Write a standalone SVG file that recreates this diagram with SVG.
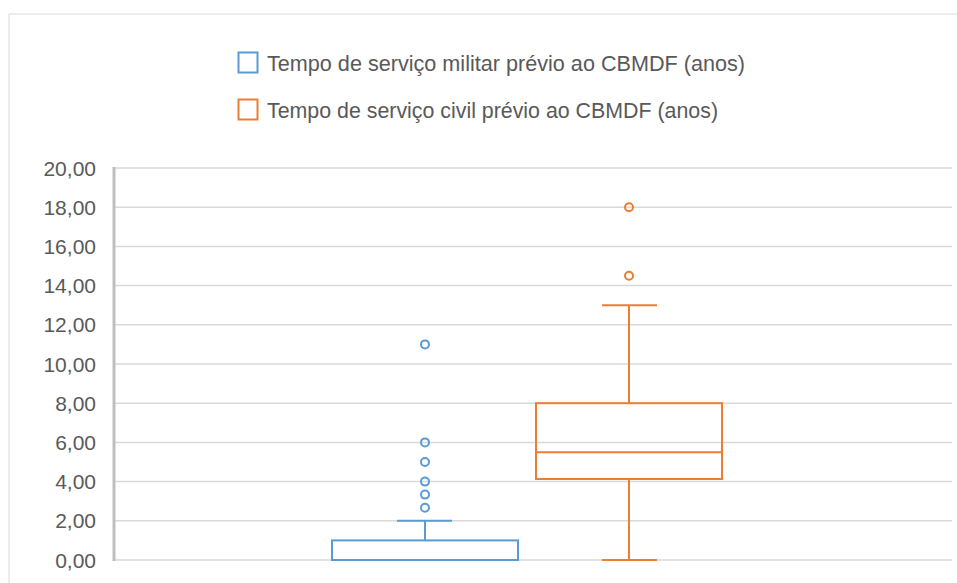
<svg xmlns="http://www.w3.org/2000/svg" width="957" height="583" viewBox="0 0 957 583">
<style>
.lbl{font-family:"Liberation Sans",Arial,sans-serif;font-size:21px;fill:#595959;text-anchor:end}
.leg{font-family:"Liberation Sans",Arial,sans-serif;font-size:21.5px;fill:#595959}
.grid line{stroke:#d9d9d9;stroke-width:1.5}
.blue{stroke:#5b9bd5;stroke-width:2;fill:none}
.orange{stroke:#ed7d31;stroke-width:2;fill:none}
</style>
<rect x="0" y="0" width="957" height="583" fill="#ffffff"/>
<g id="frame">
<path d="M9,583 V14 H957" fill="none" stroke="#d9d9d9" stroke-width="1"/>
</g>
<g id="legend">
<rect x="238.5" y="52.5" width="19" height="20" class="blue"/>
<text x="267" y="71" class="leg" textLength="478" lengthAdjust="spacingAndGlyphs">Tempo de serviço militar prévio ao CBMDF (anos)</text>
<rect x="238.5" y="99.5" width="19" height="20" class="orange"/>
<text x="267" y="118" class="leg" textLength="451" lengthAdjust="spacingAndGlyphs">Tempo de serviço civil prévio ao CBMDF (anos)</text>
</g>
<g id="grid" class="grid">
<line x1="115" y1="168" x2="952" y2="168"/>
<line x1="115" y1="207.2" x2="952" y2="207.2"/>
<line x1="115" y1="246.4" x2="952" y2="246.4"/>
<line x1="115" y1="285.6" x2="952" y2="285.6"/>
<line x1="115" y1="324.8" x2="952" y2="324.8"/>
<line x1="115" y1="364" x2="952" y2="364"/>
<line x1="115" y1="403.2" x2="952" y2="403.2"/>
<line x1="115" y1="442.4" x2="952" y2="442.4"/>
<line x1="115" y1="481.6" x2="952" y2="481.6"/>
<line x1="115" y1="520.8" x2="952" y2="520.8"/>
<line x1="115" y1="560" x2="952" y2="560"/>
</g>
<g id="axis">
<line x1="114" y1="167" x2="114" y2="561" stroke="#bfbfbf" stroke-width="3"/>
<text x="96" y="175.5" class="lbl">20,00</text>
<text x="96" y="214.7" class="lbl">18,00</text>
<text x="96" y="253.9" class="lbl">16,00</text>
<text x="96" y="293.1" class="lbl">14,00</text>
<text x="96" y="332.3" class="lbl">12,00</text>
<text x="96" y="371.5" class="lbl">10,00</text>
<text x="96" y="410.7" class="lbl">8,00</text>
<text x="96" y="449.9" class="lbl">6,00</text>
<text x="96" y="489.1" class="lbl">4,00</text>
<text x="96" y="528.3" class="lbl">2,00</text>
<text x="96" y="567.5" class="lbl">0,00</text>
</g>
<g id="box-militar" class="blue">
<rect x="332" y="540.4" width="186" height="19.6"/>
<line x1="425" y1="540.4" x2="425" y2="520.8"/>
<line x1="397" y1="520.8" x2="452" y2="520.8"/>
<circle cx="425" cy="344.4" r="4"/>
<circle cx="425" cy="442.4" r="4"/>
<circle cx="425" cy="462" r="4"/>
<circle cx="425" cy="481.6" r="4"/>
<circle cx="425" cy="494.6" r="4"/>
<circle cx="425" cy="507.7" r="4"/>
</g>
<g id="box-civil" class="orange">
<rect x="536" y="403.2" width="186" height="75.8"/>
<line x1="536" y1="452.2" x2="722" y2="452.2"/>
<line x1="629" y1="403.2" x2="629" y2="305.2"/>
<line x1="602" y1="305.2" x2="657" y2="305.2"/>
<line x1="629" y1="479" x2="629" y2="560"/>
<line x1="602" y1="560" x2="657" y2="560"/>
<circle cx="629" cy="207.2" r="4"/>
<circle cx="629" cy="275.8" r="4"/>
</g>
</svg>
